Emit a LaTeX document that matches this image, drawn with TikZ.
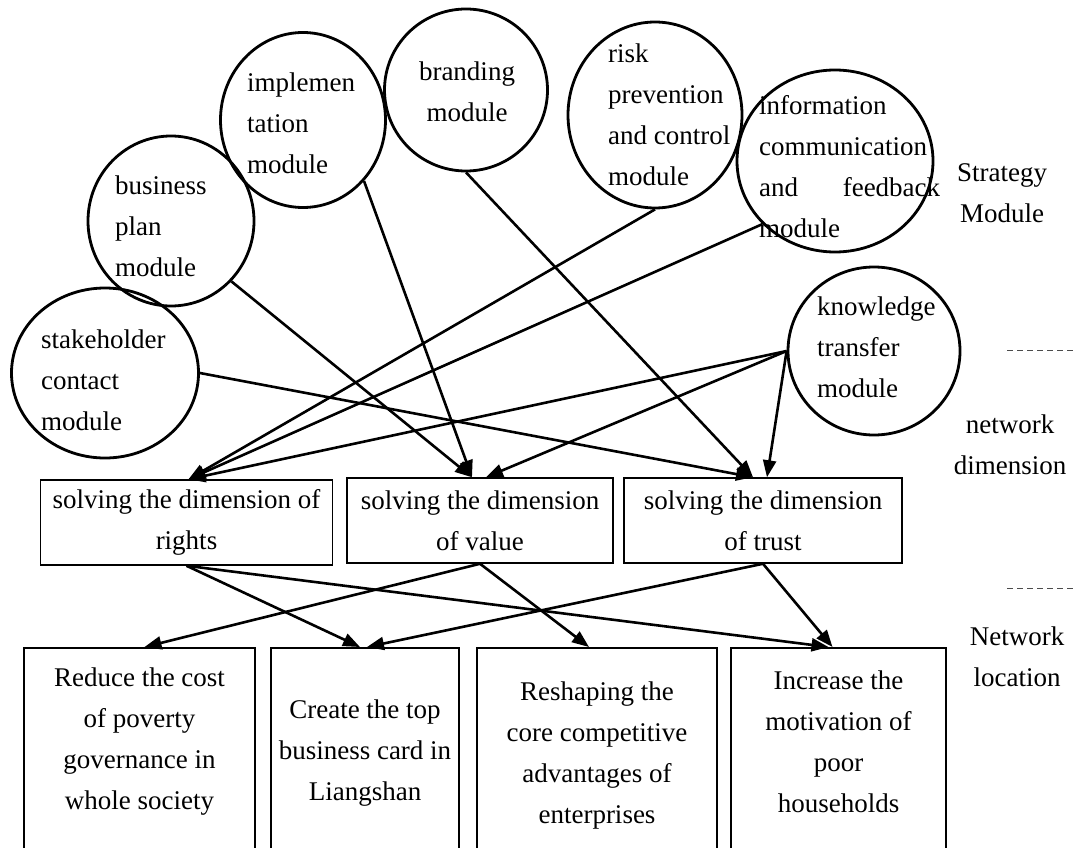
\documentclass[tikz,border=0pt]{standalone}
\usepackage{fontspec}
\setmainfont{Liberation Serif}
\usetikzlibrary{arrows.meta,shapes.geometric}

\begin{document}
\begin{tikzpicture}[x=1pt, y=-1pt, >={Triangle[length=17pt,width=13pt]},
    every node/.style={font=\fontsize{27}{41}\selectfont, inner sep=0pt},
    module/.style={ellipse, draw, line width=2.8pt},
    modtext/.style={align=left, anchor=west},
    dimbox/.style={rectangle, draw, line width=1.5pt, minimum height=85pt, align=center},
    goalbox/.style={rectangle, draw, line width=1.5pt, minimum height=240pt, anchor=north},
    link/.style={->, line width=2.6pt}]

            \clip (0,0) rectangle (1073,848);
            \fill[white] (0,0) rectangle (1073,848);

            % Strategy modules
            \node[module, minimum width=187pt, minimum height=170pt] (stake) at (105,373) {};
            \node[module, minimum width=166pt, minimum height=170pt] (plan) at (171,221) {};
            \node[module, minimum width=165pt, minimum height=175pt] (impl) at (303,120) {};
            \node[module, minimum width=163pt, minimum height=162pt] (brand) at (466,90) {};
            \node[module, minimum width=174pt, minimum height=186pt] (risk) at (655,115) {};
            \node[module, minimum width=196pt, minimum height=182pt] (info) at (835,161) {};
            \node[module, minimum width=172pt, minimum height=168pt] (know) at (874,351) {};

            \node[modtext] (staketext) at (41,380) {stakeholder\\contact\\module};
            \node[modtext] (plantext) at (115,226) {business\\plan\\module};
            \node[modtext] (impltext) at (247,123) {implemen\\tation\\module};
            \node[align=center] (brandtext) at (467,92) {branding\\module};
            \node[modtext] (risktext) at (608,115) {risk\\prevention\\and control\\module};
            \node[modtext] (infotext) at (759,167) {information\\communication\\\makebox[181pt][s]{and feedback}\\module};
            \node[modtext] (knowtext) at (817,347) {knowledge\\transfer\\module};

            % Side labels
            \node[align=center] (strategy) at (1002,193) {Strategy\\Module};
            \node[align=center] (netdim) at (1010,445) {network\\dimension};
            \node[align=center] (netloc) at (1017,657) {Network\\location};
            \foreach \y in {350,588} {
                \draw[dash pattern=on 6pt off 4pt, line width=0.8pt, black!70] (1007,\y) -- (1073,\y);
            }

            % Dimensions
            \node[dimbox, minimum width=292pt] (rights) at (186.5,522.5) {solving the dimension of\\rights};
            \node[dimbox, minimum width=266pt] (value) at (480,520.5) {solving the dimension\\of value};
            \node[dimbox, minimum width=278pt] (trust) at (763,520.5) {solving the dimension\\of trust};

            % Goals
            \node[goalbox, minimum width=231pt] (reduce) at (139.5,647) {};
            \node[goalbox, minimum width=188pt] (create) at (365,647) {};
            \node[goalbox, minimum width=240pt] (reshape) at (597,647) {};
            \node[goalbox, minimum width=215pt] (increase) at (838.5,647) {};
            \node[align=center] (reducetext) at (139.5,742) {Reduce the cost\\of poverty\\governance in\\whole society};
            \node[align=center] (createtext) at (365,753.5) {Create the top\\business card in\\Liangshan};
            \node[align=center] (reshapetext) at (597,755.5) {Reshaping the\\core competitive\\advantages of\\enterprises};
            \node[align=center] (increasetext) at (838.5,742) {Increase the\\motivation of\\poor\\households};

            % Edges
            \draw[link] (stake.east) -- ([xshift=-10pt]trust.north);
            \draw[link] (plan.-45) -- ([xshift=-8pt]value.north);
            \draw[link] (impl.-45) -- ([xshift=-8pt]value.north);
            \draw[link] (brand.south) -- ([xshift=-10pt]trust.north);
            \draw[link] (risk.south) -- ([xshift=2pt]rights.north);
            \draw[link] (info.-139) -- ([xshift=2pt]rights.north);
            \foreach \t/\s in {rights/2pt, value/6pt, trust/4pt} {
                \draw[link] (know.west) -- ([xshift=\s]\t.north);
            }

            \draw[link] (rights.south) -- ([xshift=-5pt]create.north);
            \draw[link] (rights.south) -- ([xshift=-10pt]increase.north);
            \draw[link] (value.south) -- ([xshift=5pt]reduce.north);
            \draw[link] (value.south) -- ([xshift=-8pt]reshape.north);
            \draw[link] (trust.south) -- ([xshift=2pt]create.north);
            \draw[link] (trust.south) -- ([xshift=-6pt]increase.north);
        \end{tikzpicture}
\end{document}
